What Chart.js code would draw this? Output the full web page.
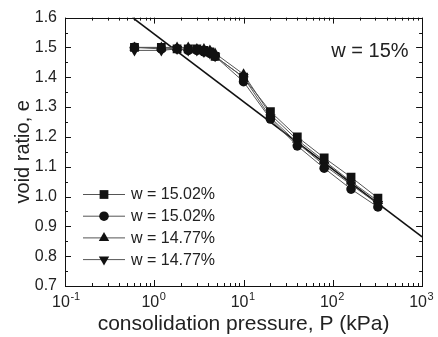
<!DOCTYPE html>
<html><head><meta charset="utf-8">
<script src="https://cdn.jsdelivr.net/npm/chart.js@4/dist/chart.umd.min.js"></script>
<style>html,body{margin:0;padding:0;background:#fff}#wrap{width:438px;height:337px}</style>
</head><body><div id="wrap"><canvas id="c" width="438" height="337"></canvas></div>
<script>
const pressures = [0.6, 1.2, 1.8, 2.4, 3.0, 3.6, 4.2, 4.8, 10, 20, 40, 80, 160, 320];
const eSquare   = [1.500, 1.500, 1.495, 1.495, 1.495, 1.490, 1.485, 1.470, 1.400, 1.285, 1.200, 1.130, 1.065, 0.995];
const eCircle   = [1.500, 1.495, 1.495, 1.490, 1.490, 1.485, 1.480, 1.470, 1.385, 1.260, 1.170, 1.095, 1.025, 0.965];
const eTriUp    = [1.500, 1.500, 1.500, 1.500, 1.495, 1.495, 1.490, 1.480, 1.410, 1.275, 1.190, 1.120, 1.050, 0.985];
const eTriDown  = [1.490, 1.490, 1.495, 1.490, 1.490, 1.485, 1.480, 1.470, 1.400, 1.265, 1.180, 1.105, 1.040, 0.975];
const seriesLabels = ['w = 15.02%', 'w = 15.02%', 'w = 14.77%', 'w = 14.77%'];
const fitP = [0.57, 1000];
const fitE = [1.6, 0.865];
const xDecades = [0.1, 1, 10, 100, 1000];
const xExponents = ['-1', '0', '1', '2', '3'];
const annotationText = 'w = 15%';

const FONT = '"Liberation Sans", Arial, sans-serif';
const TXT = '#222';

function pts(xs, ys) { return xs.map((x, i) => ({x: x, y: ys[i]})); }

const styles = [
  {pointStyle: 'rect', radius: 6.2, rotation: 0},
  {pointStyle: 'circle', radius: 4.8, rotation: 0},
  {pointStyle: 'triangle', radius: 6, rotation: 0},
  {pointStyle: 'triangle', radius: 6, rotation: 180}
];
const seriesData = [eSquare, eCircle, eTriUp, eTriDown];

const datasets = seriesData.map((ys, i) => ({
  label: seriesLabels[i],
  data: pts(pressures, ys),
  borderColor: '#555',
  borderWidth: 1,
  backgroundColor: '#111',
  pointBackgroundColor: '#111',
  pointBorderColor: '#111',
  pointBorderWidth: 0,
  pointStyle: styles[i].pointStyle,
  pointRadius: styles[i].radius,
  pointRotation: styles[i].rotation,
  pointHoverRadius: styles[i].radius,
  showLine: true,
  fill: false,
  tension: 0
}));
datasets.push({
  label: 'fit',
  data: pts(fitP, fitE),
  borderColor: '#111',
  borderWidth: 1.6,
  pointRadius: 0,
  showLine: true,
  fill: false,
  isFit: true
});

const decor = {
  id: 'decor',
  afterDraw(chart) {
    const ctx = chart.ctx, a = chart.chartArea;
    const xs = chart.scales.x, ys = chart.scales.y;
    ctx.save();
    ctx.strokeStyle = '#111';
    ctx.lineWidth = 1;
    ctx.beginPath();
    for (let d = 0; d < xDecades.length; d++) {
      const base = xDecades[d];
      const kmax = d === xDecades.length - 1 ? 1 : 9;
      for (let k = 1; k <= kmax; k++) {
        const v = base * k;
        const px = Math.round(xs.getPixelForValue(v)) + 0.5;
        const len = k === 1 ? 6 : 3;
        ctx.moveTo(px, a.bottom); ctx.lineTo(px, a.bottom - len);
        ctx.moveTo(px, a.top); ctx.lineTo(px, a.top + len);
      }
    }
    for (let i = 0; i <= 18; i++) {
      const v = 0.7 + i * 0.05;
      const py = Math.round(ys.getPixelForValue(v)) + 0.5;
      const len = i % 2 === 0 ? 6 : 3;
      ctx.moveTo(a.left, py); ctx.lineTo(a.left + len, py);
      ctx.moveTo(a.right, py); ctx.lineTo(a.right - len, py);
    }
    ctx.stroke();
    ctx.strokeRect(Math.round(a.left) + 0.5, Math.round(a.top) + 0.5, Math.round(a.right - a.left), Math.round(a.bottom - a.top));

    ctx.fillStyle = TXT;
    ctx.font = '16px ' + FONT;
    const w10 = ctx.measureText('10').width;
    ctx.font = '11px ' + FONT;
    ctx.textBaseline = 'top';
    ctx.textAlign = 'left';
    xDecades.forEach((v, i) => {
      const px = xs.getPixelForValue(v) - 4 + w10 / 2 + 0.5;
      ctx.fillText(xExponents[i], px, a.bottom + 5);
    });

    ctx.font = '20px ' + FONT;
    ctx.textAlign = 'center';
    ctx.textBaseline = 'middle';
    ctx.fillText(annotationText, 370, 51);

    const lx0 = 83, lx1 = 125, mx = 104, tx = 131;
    let ly = 194;
    chart.data.datasets.forEach((ds, i) => {
      if (ds.isFit) return;
      ctx.strokeStyle = '#555';
      ctx.lineWidth = 1;
      ctx.beginPath();
      ctx.moveTo(lx0, ly + 0.5); ctx.lineTo(lx1, ly + 0.5);
      ctx.stroke();
      ctx.fillStyle = '#111';
      ctx.strokeStyle = '#111';
      Chart.helpers.drawPoint(ctx, {pointStyle: ds.pointStyle, radius: ds.pointRadius, rotation: ds.pointRotation, borderWidth: 0}, mx, ly + 0.5);
      ctx.fillStyle = TXT;
      ctx.font = '16px ' + FONT;
      ctx.textAlign = 'left';
      ctx.textBaseline = 'middle';
      ctx.fillText(ds.label, tx, ly + 1);
      ly += 21.7;
    });
    ctx.restore();
  }
};

new Chart(document.getElementById('c'), {
  type: 'scatter',
  data: {datasets: datasets},
  options: {
    responsive: false,
    animation: false,
    devicePixelRatio: 1,
    layout: {padding: {left: 0, right: 12, top: 17, bottom: 0}},
    plugins: {legend: {display: false}, tooltip: {enabled: false}},
    scales: {
      x: {
        type: 'logarithmic',
        min: 0.1, max: 1000,
        afterBuildTicks(scale) { scale.ticks = xDecades.map(v => ({value: v, major: true})); },
        afterFit(scale) { scale.height = 51; },
        grid: {display: false, drawTicks: false},
        border: {display: false},
        ticks: {
          autoSkip: false, maxRotation: 0, padding: 7, labelOffset: -4,
          color: TXT, font: {family: FONT, size: 16},
          callback: () => '10'
        },
        title: {display: true, text: 'consolidation pressure, P (kPa)', color: TXT,
                font: {family: FONT, size: 21}, padding: {top: 0, bottom: 0}}
      },
      y: {
        type: 'linear',
        min: 0.7, max: 1.6,
        afterFit(scale) { scale.width = 65; },
        grid: {display: false, drawTicks: false},
        border: {display: false},
        ticks: {stepSize: 0.1, padding: 8, color: TXT, font: {family: FONT, size: 16},
                callback: v => Number(v).toFixed(1)},
        title: {display: true, text: 'void ratio, e', color: TXT,
                font: {family: FONT, size: 20}, padding: {top: 11, bottom: 0}}
      }
    }
  },
  plugins: [decor]
});
</script></body></html>
